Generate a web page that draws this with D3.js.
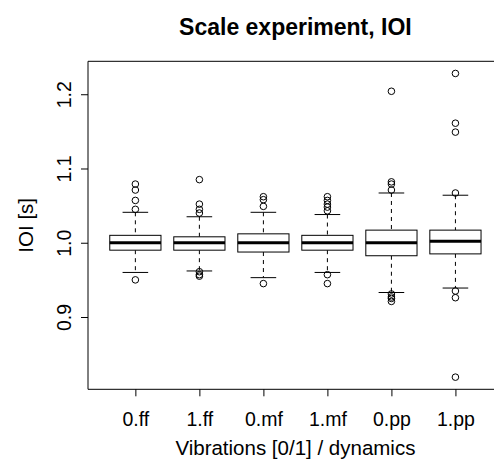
<!DOCTYPE html>
<html>
<head>
<meta charset="utf-8">
<script src="https://cdn.jsdelivr.net/npm/d3@7"></script>
<style>
  html, body { margin: 0; padding: 0; background: #fff; overflow: hidden; }
  svg { display: block; overflow: hidden; }
  text { font-family: "Liberation Sans", Arial, sans-serif; fill: #000; }
</style>
</head>
<body>
<div id="chart"></div>
<script>
// groups: vibrations [0/1] . dynamics
const categories = ['0.ff', '1.ff', '0.mf', '1.mf', '0.pp', '1.pp'];

// five-number summaries (IOI in seconds)
const whiskerLow  = [0.960, 0.962, 0.953, 0.960, 0.933, 0.939];
const quart1      = [0.990, 0.990, 0.9875, 0.990, 0.9825, 0.985];
const medians     = [1.000, 1.000, 1.000, 1.000, 1.000, 1.002];
const quart3      = [1.010, 1.008, 1.012, 1.010, 1.017, 1.017];
const whiskerHigh = [1.041, 1.035, 1.041, 1.038, 1.067, 1.064];

const outliers = [
    [1.079, 1.071, 1.057, 1.045, 0.950],
    [1.085, 1.052, 1.045, 1.040, 0.961, 0.957, 0.955],
    [1.062, 1.058, 1.049, 0.945],
    [1.062, 1.057, 1.052, 1.048, 1.043, 0.957, 0.945],
    [1.204, 1.082, 1.079, 1.071, 0.931, 0.927, 0.925, 0.921],
    [1.228, 1.161, 1.149, 1.067, 0.935, 0.926, 0.819]
];

const yTicks = [0.9, 1.0, 1.1, 1.2];

const chartTitle = 'Scale experiment, IOI';
const xTitle = 'Vibrations [0/1] / dynamics';
const yTitle = 'IOI [s]';

drawBoxplot('chart');

function drawBoxplot(id) {
    const width = 494, height = 462;
    const left = 88, top = 61.3, plotW = 414.8, plotH = 328;

    const svg = d3.select(`#${id}`)
        .append('svg')
        .attr('width', width)
        .attr('height', height);

    /* y range like R: data range plus 4% */
    const allVals = d3.merge([whiskerLow, whiskerHigh, d3.merge(outliers)]);
    const yMin = d3.min(allVals), yMax = d3.max(allVals);
    const ext = (yMax - yMin) * 0.04;
    const yScale = d3.scaleLinear()
        .domain([yMin - ext, yMax + ext])
        .range([top + plotH, top]);

    /* x range: 0.5..n+0.5 plus 4% */
    const n = categories.length;
    const xExt = n * 0.04;
    const xScale = d3.scaleLinear()
        .domain([0.5 - xExt, n + 0.5 + xExt])
        .range([left, left + plotW]);
    const boxW = 0.8 * (xScale(2) - xScale(1));

    const rows = categories.map((c, i) => ({
        cat: c, pos: i + 1,
        lo: whiskerLow[i], q1: quart1[i], med: medians[i], q3: quart3[i], hi: whiskerHigh[i],
        out: outliers[i]
    }));

    const g = svg.selectAll('g.box')
        .data(rows)
        .enter()
        .append('g')
        .attr('class', 'box');

    /* dashed whiskers */
    g.append('line')
        .attr('x1', d => xScale(d.pos)).attr('x2', d => xScale(d.pos))
        .attr('y1', d => yScale(d.hi)).attr('y2', d => yScale(d.q3))
        .attr('stroke', '#000').attr('stroke-dasharray', '4,4');
    g.append('line')
        .attr('x1', d => xScale(d.pos)).attr('x2', d => xScale(d.pos))
        .attr('y1', d => yScale(d.q1)).attr('y2', d => yScale(d.lo))
        .attr('stroke', '#000').attr('stroke-dasharray', '4,4');

    /* staples */
    ['lo', 'hi'].forEach(k => {
        g.append('line')
            .attr('x1', d => xScale(d.pos) - boxW / 4)
            .attr('x2', d => xScale(d.pos) + boxW / 4)
            .attr('y1', d => yScale(d[k])).attr('y2', d => yScale(d[k]))
            .attr('stroke', '#000');
    });

    /* boxes */
    g.append('rect')
        .attr('x', d => xScale(d.pos) - boxW / 2)
        .attr('width', boxW)
        .attr('y', d => yScale(d.q3))
        .attr('height', d => yScale(d.q1) - yScale(d.q3))
        .attr('fill', '#fff')
        .attr('stroke', '#000');

    /* medians */
    g.append('line')
        .attr('x1', d => xScale(d.pos) - boxW / 2)
        .attr('x2', d => xScale(d.pos) + boxW / 2)
        .attr('y1', d => yScale(d.med)).attr('y2', d => yScale(d.med))
        .attr('stroke', '#000').attr('stroke-width', 3);

    /* outliers */
    g.selectAll('circle')
        .data(d => d.out.map(v => ({ pos: d.pos, v: v })))
        .enter()
        .append('circle')
        .attr('cx', d => xScale(d.pos))
        .attr('cy', d => yScale(d.v))
        .attr('r', 3.3)
        .attr('fill', 'none')
        .attr('stroke', '#000');

    /* frame (right side falls outside the window) */
    svg.append('path')
        .attr('d', `M${width + 5},${top}H${left}V${top + plotH}H${width + 5}`)
        .attr('fill', 'none').attr('stroke', '#000');

    /* y axis */
    const yAxis = svg.append('g')
        .attr('transform', `translate(${left},0)`)
        .call(d3.axisLeft(yScale).tickValues(yTicks).tickSize(7).tickFormat(d3.format('.1f')));
    yAxis.select('.domain').remove();
    yAxis.selectAll('line').attr('stroke', '#000');
    yAxis.selectAll('text')
        .attr('transform', 'rotate(-90)')
        .attr('x', 0).attr('y', -17).attr('dy', 0)
        .style('text-anchor', 'middle')
        .style('font-size', '19.5px')
        .style('font-family', '"Liberation Sans", Arial, sans-serif')
        .attr('fill', '#000');

    /* x axis */
    const xAxis = svg.append('g')
        .attr('transform', `translate(0,${top + plotH})`)
        .call(d3.axisBottom(xScale).tickValues(rows.map(d => d.pos)).tickSize(7)
            .tickFormat((d, i) => categories[i]));
    xAxis.select('.domain').remove();
    xAxis.selectAll('line').attr('stroke', '#000');
    xAxis.selectAll('text')
        .attr('y', 36.7).attr('dy', 0)
        .style('font-size', '19.5px')
        .style('font-family', '"Liberation Sans", Arial, sans-serif')
        .attr('fill', '#000');

    /* title */
    svg.append('text')
        .text(chartTitle)
        .attr('x', left + plotW / 2)
        .attr('y', 35)
        .style('text-anchor', 'middle')
        .style('font-size', '23px')
        .style('font-weight', 'bold');

    /* x label */
    svg.append('text')
        .text(xTitle)
        .attr('x', left + plotW / 2)
        .attr('y', 455)
        .style('text-anchor', 'middle')
        .style('font-size', '20.5px');

    /* y label */
    svg.append('text')
        .text(yTitle)
        .attr('transform', `translate(33,${top + plotH / 2}) rotate(-90)`)
        .style('text-anchor', 'middle')
        .style('font-size', '20.5px');
}
</script>
</body>
</html>
